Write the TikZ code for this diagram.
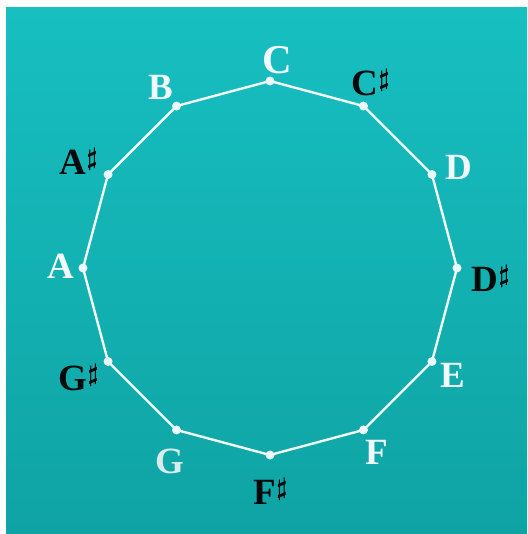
\documentclass[tikz,border=0pt]{standalone}
\usepackage{fontspec}
\setmainfont{Liberation Serif}
\begin{document}
\begin{tikzpicture}[x=1pt,y=-1pt,
  lbl/.style={font=\fontsize{37}{37}\selectfont\bfseries\boldmath, inner sep=0pt, anchor=center},
  wl/.style={lbl, text=white!94!cyan},
  bl/.style={lbl, text=black!92!teal},
  dotn/.style={circle, fill=white!92!cyan, inner sep=0pt, minimum size=9pt},
  edge/.style={draw=white!95!cyan, line width=2.4pt}]
\useasboundingbox (0,0) rectangle (527,534);
\fill[white] (0,0) rectangle (527,534);
\shade[top color={rgb,255:red,23;green,191;blue,193}, bottom color={rgb,255:red,15;green,163;blue,164}] (6,8) rectangle (527,534);
% vertices of the 12-gon
\foreach \n/\a in {C/90,Cs/60,D/30,Ds/0,E/-30,F/-60,Fs/-90,G/-120,Gs/-150,A/180,As/150,B/120}{
  \coordinate (p\n) at ({270+187*cos(\a)},{268-187*sin(\a)});
}
\draw[edge] (pC) -- (pCs) -- (pD) -- (pDs) -- (pE) -- (pF) -- (pFs) -- (pG) -- (pGs) -- (pA) -- (pAs) -- (pB) -- cycle;
\foreach \n in {C,Cs,D,Ds,E,F,Fs,G,Gs,A,As,B}{
  \node[dotn] (d\n) at (p\n) {};
}
% labels
\node[wl, font=\fontsize{41}{41}\selectfont\bfseries] (lC) at (277,60) {C};
\node[bl] (lCs) at (371,83) {C$^{\sharp}$};
\node[wl] (lD) at (459,167) {D};
\node[bl] (lDs) at (491,278) {D$^{\sharp}$};
\node[wl] (lE) at (453,375) {E};
\node[wl] (lF) at (377,452) {F};
\node[bl] (lFs) at (271,491) {F$^{\sharp}$};
\node[wl, text=white!85!teal] (lG) at (170,461) {G};
\node[bl] (lGs) at (79,378) {G$^{\sharp}$};
\node[wl] (lA) at (61,266) {A};
\node[bl] (lAs) at (79,161) {A$^{\sharp}$};
\node[wl] (lB) at (161,87) {B};
\end{tikzpicture}
\end{document}
